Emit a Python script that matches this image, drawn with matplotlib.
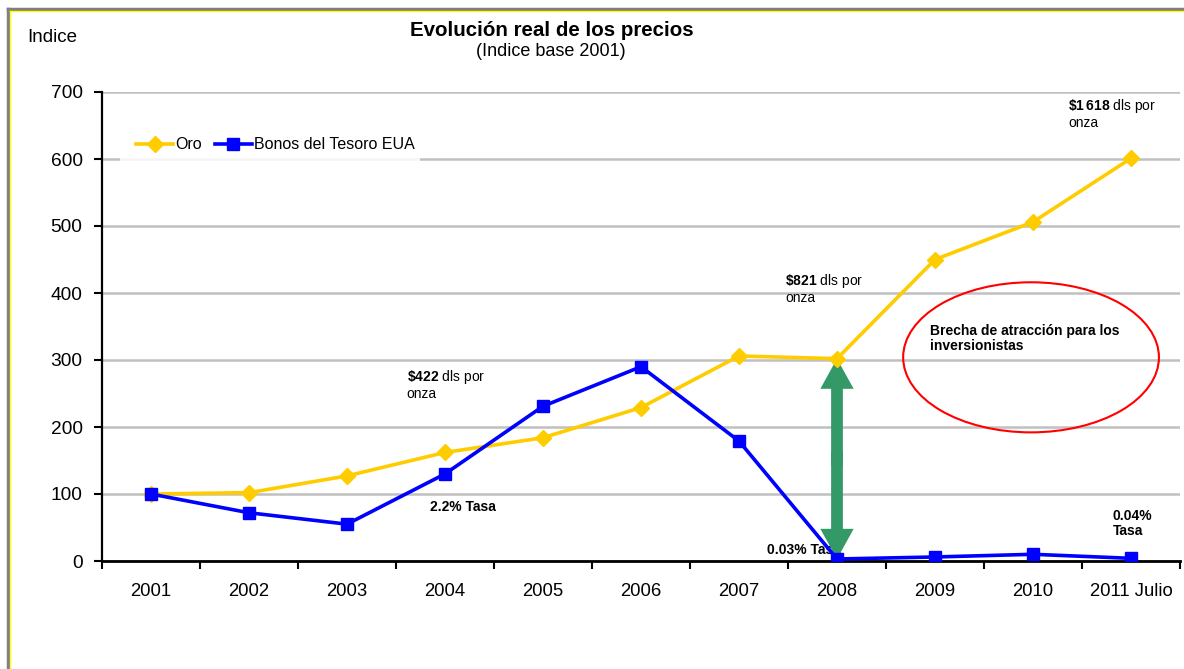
import matplotlib
matplotlib.use('Agg')
import matplotlib.pyplot as plt
import matplotlib.patches as mpatches
from matplotlib.lines import Line2D
import numpy as np

plt.rcParams['font.family'] = ['Liberation Sans', 'DejaVu Sans']
plt.rcParams['mathtext.fontset'] = 'custom'
plt.rcParams['mathtext.rm'] = 'Liberation Sans'
plt.rcParams['mathtext.bf'] = 'Liberation Sans:bold'

years = ['2001', '2002', '2003', '2004', '2005', '2006', '2007', '2008', '2009', '2010', '2011 Julio']
oro = [100, 102, 127, 162, 184, 229, 306, 302, 450, 506, 601]
bonos = [100, 72, 55, 130, 231, 290, 179, 3, 6, 10, 4]

gap_year = 7          # 2008
gap_low, gap_high = 3, 302

W, H = 1184, 669
fig = plt.figure(figsize=(W / 100, H / 100), dpi=100)
ax = fig.add_axes([102 / W, 1 - 561 / H, (1180 - 102) / W, (561 - 92) / H])

x = np.arange(len(years))
ax.plot(x, oro, color='#FFCC00', lw=2.6, marker='D', ms=8, label='Oro', zorder=4)
ax.plot(x, bonos, color='#0000FF', lw=2.6, marker='s', ms=8, label='Bonos del Tesoro EUA', zorder=4)

ax.set_xlim(-0.5, len(years) - 0.5)
ax.set_ylim(0, 700)
ax.set_yticks(range(0, 701, 100))
ax.set_xticks(x)
ax.set_xticklabels(years, fontsize=13.3)
ax.set_xticks(np.arange(-0.5, len(years), 1), minor=True)
ax.tick_params(axis='x', which='major', length=0, pad=16)
ax.tick_params(axis='x', which='minor', length=6, width=1.5, direction='out')
ax.tick_params(axis='y', length=6, width=1.5, direction='out', labelsize=13.8, pad=8)
ax.yaxis.grid(True, color='#C0C0C0', lw=1.8)
ax.set_axisbelow(True)
for s in ['top', 'right']:
    ax.spines[s].set_visible(False)
ax.spines['left'].set_linewidth(1.6)
ax.spines['bottom'].set_linewidth(2)

# white legend box
box = mpatches.Rectangle((120 / W, 1 - 175 / H), 300 / W, 81 / H, transform=fig.transFigure,
                         facecolor='white', edgecolor='none', alpha=0.85, zorder=1)
ax.add_patch(box)
box.set_transform(fig.transFigure)
ax.legend(loc='center left', bbox_to_anchor=(0.0186, 0.887), ncol=2, frameon=False,
          fontsize=11.5, handlelength=2.3, handletextpad=0.15, columnspacing=0.8)

# green double arrow (two halves overlapping a bit in the middle)
mid = (gap_low + gap_high) / 2
ax.add_patch(mpatches.FancyArrow(gap_year, mid - 10, 0, gap_high - mid + 10, width=0.12, head_width=0.34,
                                 head_length=45, length_includes_head=True,
                                 color='#339966', lw=0, zorder=3.5))
ax.add_patch(mpatches.FancyArrow(gap_year, mid + 10, 0, gap_low - mid - 10, width=0.12, head_width=0.34,
                                 head_length=45, length_includes_head=True,
                                 color='#339966', lw=0, zorder=3.5))

# red ellipse
ax.add_patch(mpatches.Ellipse((8.98, 304), 2.61, 224, fill=False, edgecolor='#FF0000', lw=1.5, zorder=3))

fs = 10
ax.text(2.61, 288, r'$\mathbf{\$422}$ dls por' + '\nonza', fontsize=fs, va='top', ha='left', linespacing=1.1)
ax.text(2.85, 81, '2.2% Tasa', fontsize=fs, fontweight='bold', va='center', ha='left')
ax.text(6.47, 431, r'$\mathbf{\$821}$ dls por' + '\nonza', fontsize=fs, va='top', ha='left', linespacing=1.1)
ax.text(6.29, 16, '0.03% Tasa', fontsize=fs, fontweight='bold', va='center', ha='left', zorder=3)
ax.text(7.95, 353, 'Brecha de atracción para los\ninversionistas', fontsize=fs, fontweight='bold',
        va='top', ha='left', linespacing=1.05)
ax.text(9.36, 693, r'$\mathbf{\$1\,618}$ dls por' + '\nonza', fontsize=fs, va='top', ha='left', linespacing=1.1)
ax.text(9.81, 78, '0.04%\nTasa', fontsize=fs, fontweight='bold', va='top', ha='left', linespacing=1.1)

# titles
fig.text(552 / W, 1 - 30 / H, 'Evolución real de los precios', fontsize=14.8, fontweight='bold',
         ha='center', va='center')
fig.text(551 / W, 1 - 52 / H, '(Indice base 2001)', fontsize=13, ha='center', va='center')
fig.text(27 / W, 1 - 37 / H, 'Indice', fontsize=13.5, ha='left', va='center')

# outer frame
fig.add_artist(Line2D([8 / W, 8 / W], [0, 1 - 9 / H], color='#808080', lw=2.5, transform=fig.transFigure))
fig.add_artist(Line2D([8 / W, 1], [1 - 9 / H, 1 - 9 / H], color='#808080', lw=2.5, transform=fig.transFigure))
fig.add_artist(Line2D([10 / W, 10 / W], [0, 1 - 11 / H], color='#FFFF00', lw=1, transform=fig.transFigure))
fig.add_artist(Line2D([10 / W, 1], [1 - 11 / H, 1 - 11 / H], color='#FFFF00', lw=1, transform=fig.transFigure))

fig.savefig('out.png', dpi=100)
